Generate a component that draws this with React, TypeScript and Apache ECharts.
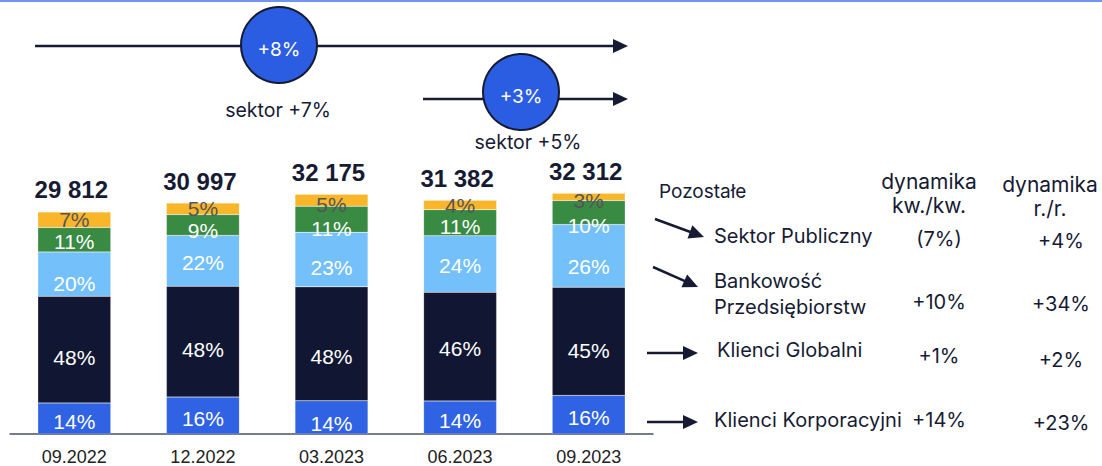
import React, { useEffect, useRef } from "react";
import * as echarts from "echarts";

const categories = ["09.2022", "12.2022", "03.2023", "06.2023", "09.2023"];
const totals = [29812, 30997, 32175, 31382, 32312];
const seriesNames = ["Klienci Korporacyjni", "Klienci Globalni", "Bankowość Przedsiębiorstw", "Sektor Publiczny", "Pozostałe"];
const sharesKorporacyjni = [14, 16, 14, 14, 16];
const sharesGlobalni = [48, 48, 48, 46, 45];
const sharesPrzedsiebiorstw = [20, 22, 23, 24, 26];
const sharesPubliczny = [11, 9, 11, 11, 10];
const sharesPozostale = [7, 5, 5, 4, 3];
const growthQoQ = ["(7%)", "+10%", "+1%", "+14%"];
const growthYoY = ["+4%", "+34%", "+2%", "+23%"];
const bubbleLabels = ["+8%", "+3%"];
const sectorLabels = ["sektor +7%", "sektor +5%"];

const colors = ["#2f63e4", "#111733", "#74c0fa", "#398a43", "#f9b62b"];
const labelColors = ["#ffffff", "#ffffff", "#ffffff", "#ffffff", "#555555"];
// vertical nudges of the in-bar labels (style only), per series then per bar
const labelNudges = [
  [3, 3, 6, 3, 3],
  [8, 8, 13, 2, 9],
  [9, 2, 8, 2, 11],
  [2, 5, 9, 4, 13],
  [0, 0, 4, 1, 4],
];
const INK = "#161b33";
const FONT = "Inter, 'Liberation Sans', sans-serif";
const LAB = "'Liberation Sans', Arial, sans-serif";

function arrowHead(x1: number, y1: number, x2: number, y2: number, len: number, half: number) {
  const dx = x2 - x1, dy = y2 - y1;
  const L = Math.sqrt(dx * dx + dy * dy);
  const ux = dx / L, uy = dy / L;
  const bx = x2 - ux * len, by = y2 - uy * len;
  const px = -uy * half, py = ux * half;
  return {
    line: { type: "line", shape: { x1, y1, x2: bx + ux * 2, y2: by + uy * 2 }, style: { stroke: INK, lineWidth: 2.5 } },
    head: { type: "polygon", shape: { points: [[x2, y2], [bx + px, by + py], [bx - px, by - py]] }, style: { fill: INK } },
  };
}

export default function App() {
  const ref = useRef<HTMLDivElement>(null);
  useEffect(() => {
    if (!ref.current) return;
    const chart = echarts.init(ref.current, null, { renderer: "svg" });
    const shareSets = [sharesKorporacyjni, sharesGlobalni, sharesPrzedsiebiorstw, sharesPubliczny, sharesPozostale];
    const sums = totals.map((_, i) => shareSets.reduce((s, arr) => s + arr[i], 0));

    const barSeries = shareSets.map((shares, si) => ({
      name: seriesNames[si],
      type: "bar",
      stack: "total",
      barWidth: 73,
      itemStyle: { color: colors[si], borderColor: "rgba(255,255,255,0.35)", borderWidth: 0.5 },
      label: {
        show: true,
        position: "inside",
        color: labelColors[si],
        fontFamily: LAB,
        fontSize: 21,
        textBorderWidth: 0,
        formatter: (p: any) => shares[p.dataIndex] + "%",
      },
      data: totals.map((t, i) => ({
        value: (t * shares[i]) / sums[i],
        label: { offset: [0, labelNudges[si][i]] },
      })),
    }));

    const graphics: any[] = [];
    graphics.push({ type: "rect", shape: { x: 0, y: 0, width: 1102, height: 2 }, style: { fill: "#7194ee" } });
    const a1 = arrowHead(35, 46, 628, 46, 15, 7);
    const a2 = arrowHead(423, 99, 628, 99, 15, 7);
    graphics.push(a1.line, a1.head, a2.line, a2.head);
    const bubblePos = [[279, 45], [521, 92]];
    const sectorPos = [[278, 110], [528, 142]];
    bubblePos.forEach((bp, i) => {
      graphics.push({ type: "circle", shape: { cx: bp[0], cy: bp[1], r: 38 }, style: { fill: "#2a5de2", stroke: INK, lineWidth: 2 } });
      graphics.push({ type: "text", x: bp[0], y: bp[1] + 4, style: { text: bubbleLabels[i], fill: "#ffffff", font: `19px ${FONT}`, align: "center", verticalAlign: "middle" } });
      graphics.push({ type: "text", x: sectorPos[i][0], y: sectorPos[i][1], style: { text: sectorLabels[i], fill: INK, font: `19.5px ${FONT}`, align: "center", verticalAlign: "middle" } });
    });

    const txt = (text: string, x: number, y: number, align = "left", size = 20) => ({
      type: "text", x, y, style: { text, fill: INK, font: `${size}px ${FONT}`, align, verticalAlign: "middle" },
    });
    graphics.push(txt(seriesNames[4], 659, 191, "left", 19));
    graphics.push(txt("dynamika", 929, 181, "center", 21), txt("kw./kw.", 929, 205, "center", 21));
    graphics.push(txt("dynamika", 1050, 184, "center", 21), txt("r./r.", 1050, 208, "center", 21));

    const d1 = arrowHead(655, 219, 704, 237, 15, 7);
    const d2 = arrowHead(653, 267, 698, 287, 15, 7);
    const d3 = arrowHead(647, 353, 698, 353, 15, 7);
    const d4 = arrowHead(647, 422, 698, 422, 15, 7);
    graphics.push(d1.line, d1.head, d2.line, d2.head, d3.line, d3.head, d4.line, d4.head);

    graphics.push(txt(seriesNames[3], 714, 236));
    graphics.push(txt("Bankowość", 714, 281), txt("Przedsiębiorstw", 714, 307));
    graphics.push(txt(seriesNames[1], 717, 350));
    graphics.push(txt(seriesNames[0], 714, 420));
    const rowY = [[239, 241], [302, 304], [356, 360], [420, 423]];
    rowY.forEach((ry, i) => {
      graphics.push(txt(growthQoQ[i], 939, ry[0], "center"));
      graphics.push(txt(growthYoY[i], 1061, ry[1], "center"));
    });

    chart.setOption({
      animation: false,
      grid: { left: 10, right: 449, top: 136, bottom: 31, containLabel: false },
      xAxis: {
        type: "category",
        data: categories,
        axisTick: { show: false },
        axisLine: { lineStyle: { color: "#4a5068", width: 1.5 } },
        axisLabel: { color: "#222222", fontSize: 18, fontFamily: LAB, margin: 14 },
      },
      yAxis: { type: "value", min: 0, max: 40000, show: false, splitLine: { show: false } },
      series: [
        ...barSeries,
        {
          name: "Suma",
          type: "scatter",
          symbolSize: 0,
          itemStyle: { opacity: 1 },
          data: totals,
          label: {
            show: true,
            position: "top",
            distance: 10,
            offset: [-3, 0],
            color: INK,
            opacity: 1,
            fontWeight: "bold",
            fontSize: 24,
            fontFamily: LAB,
            formatter: (p: any) => String(totals[p.dataIndex]).replace(/(\d)(?=(\d{3})+$)/g, "$1 "),
          },
        },
      ],
      graphic: graphics,
    });
    return () => chart.dispose();
  }, []);
  return <div ref={ref} style={{ position: "fixed", left: 0, top: 0, width: 1102, height: 466, background: "#ffffff" }} />;
}
